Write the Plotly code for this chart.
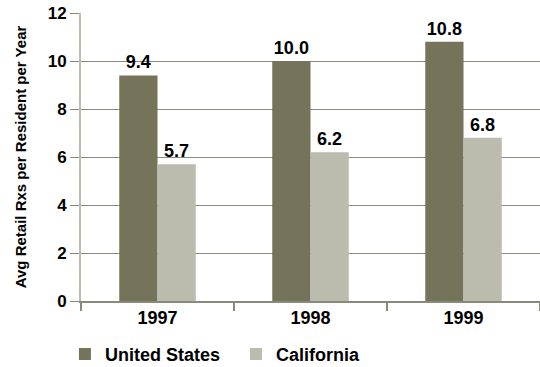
import plotly.graph_objects as go

years = ["1997", "1998", "1999"]
us_values = [9.4, 10.0, 10.8]
ca_values = [5.7, 6.2, 6.8]
y_ticks = [0, 2, 4, 6, 8, 10, 12]

FONT = "Liberation Sans, Arial, sans-serif"
US_COLOR = "#76735b"
CA_COLOR = "#bbbbae"
GRID = "#8a8a7c"

fig = go.Figure()
fig.add_trace(go.Bar(
    x=years, y=us_values, name="United States",
    marker=dict(color=US_COLOR, line=dict(width=0)),
    text=[f"{v:.1f}" for v in us_values], textposition="outside",
    textfont=dict(family=FONT, size=18, color="black", weight="bold"),
    cliponaxis=False,
))
fig.add_trace(go.Bar(
    x=years, y=ca_values, name="California",
    marker=dict(color=CA_COLOR, line=dict(width=0)),
    text=[f"{v:.1f}" for v in ca_values], textposition="outside",
    textfont=dict(family=FONT, size=18, color="black", weight="bold"),
    cliponaxis=False,
))

fig.update_layout(
    width=540, height=367,
    margin=dict(l=81, r=0, t=13, b=66, autoexpand=False),
    paper_bgcolor="white", plot_bgcolor="white",
    barmode="group", bargap=0.5, bargroupgap=0,
    font=dict(family=FONT, color="black"),
    showlegend=True,
    legend=dict(
        orientation="h", x=-0.035, xanchor="left", y=-0.185, yanchor="middle",
        font=dict(family=FONT, size=18, color="black", weight="bold"),
        itemsizing="constant", traceorder="normal",
        entrywidth=126, entrywidthmode="pixels",
    ),
)
fig.update_xaxes(
    type="category",
    tickfont=dict(family=FONT, size=18, color="black", weight="bold"),
    showline=True, linecolor=GRID, linewidth=1.5,
    ticks="outside", tickson="boundaries", ticklen=8, tickcolor=GRID, tickwidth=1.5,
    showgrid=False,
)
fig.update_yaxes(
    range=[0, 12], tickvals=y_ticks,
    tickfont=dict(family=FONT, size=17, color="black", weight="bold"),
    showline=True, linecolor="#bcbcb0", linewidth=2,
    ticks="outside", ticklen=9, tickcolor=GRID, tickwidth=1,
    showgrid=True, gridcolor=GRID, gridwidth=1,
    zeroline=False,
    title=dict(text="Avg Retail Rxs per Resident per Year", standoff=17,
               font=dict(family=FONT, size=15, color="black", weight="bold")),
)

fig.write_html("out.html")
